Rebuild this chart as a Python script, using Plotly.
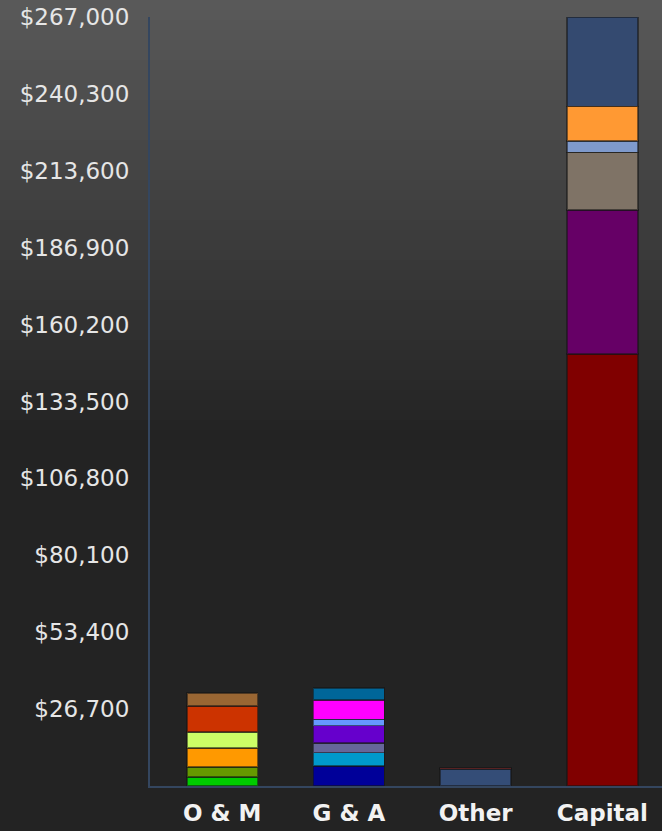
import plotly.graph_objects as go

categories = ["O & M", "G & A", "Other", "Capital"]

om_values = [3100, 3500, 6600, 5600, 9000, 4500]
om_colors = ["#00cc00", "#669900", "#ff9900", "#ccff66", "#cc3300", "#996633"]

ga_values = [6900, 4700, 3300, 6100, 2100, 6800, 4200]
ga_colors = ["#000099", "#0099cc", "#666699", "#6600cc", "#6699ff", "#ff00ff", "#006699"]

other_values = [5900, 400]
other_colors = ["#344d77", "#aa3333"]

capital_values = [150000, 50000, 20000, 4000, 12000, 31000]
capital_colors = ["#800000", "#660066", "#7f7366", "#7f9acc", "#ff9933", "#344a70"]

tick_values = [26700 * i for i in range(1, 11)]
tick_labels = ["$" + format(v, ",") for v in tick_values]

fig = go.Figure()
series = [
    (categories[0], om_values, om_colors),
    (categories[1], ga_values, ga_colors),
    (categories[2], other_values, other_colors),
    (categories[3], capital_values, capital_colors),
]
for cat, vals, cols in series:
    for v, c in zip(vals, cols):
        fig.add_trace(go.Bar(
            x=[cat], y=[v], width=0.56,
            marker=dict(color=c, line=dict(color="rgba(20,20,20,0.55)", width=1.5)),
            showlegend=False, hoverinfo="x+y",
        ))

W, H = 662, 831
top, bottom = 17, 45
plot_h = H - top - bottom

def py(pix):
    return (H - bottom - pix) / plot_h

shapes = []
n = 44
start, end = (89, 89, 89), (35, 35, 35)
for i in range(n):
    p0 = i * 10
    p1 = p0 + 11
    t = i / (n - 1)
    c = tuple(int(round(start[k] + (end[k] - start[k]) * t)) for k in range(3))
    shapes.append(dict(type="rect", xref="paper", yref="paper",
                       x0=-0.4, x1=1.1, y0=py(p1), y1=py(p0),
                       fillcolor="rgb(%d,%d,%d)" % c, line=dict(width=0), layer="below"))

fig.update_layout(
    width=W, height=H,
    margin=dict(l=150, r=0, t=top, b=bottom),
    barmode="stack",
    paper_bgcolor="#232323",
    plot_bgcolor="rgba(0,0,0,0)",
    shapes=shapes,
    xaxis=dict(
        categoryorder="array", categoryarray=categories,
        range=[-0.57, 3.47],
        showline=True, linecolor="#34465f", linewidth=2,
        showgrid=False, zeroline=False, ticks="",
        tickfont=dict(family="DejaVu Sans", size=23, color="#f2f2f2", weight="bold"),
        ticklabelstandoff=5,
    ),
    yaxis=dict(
        range=[0, 267000],
        tickvals=tick_values, ticktext=tick_labels,
        showline=True, linecolor="#34465f", linewidth=2,
        showgrid=False, zeroline=False, ticks="",
        tickfont=dict(family="DejaVu Sans", size=23, color="#e6e6e6"),
        ticklabelstandoff=14,
    ),
)

fig.write_html("out.html", config={"displayModeBar": False},
               post_script="document.body.style.margin='0';document.body.style.overflow='hidden';")
